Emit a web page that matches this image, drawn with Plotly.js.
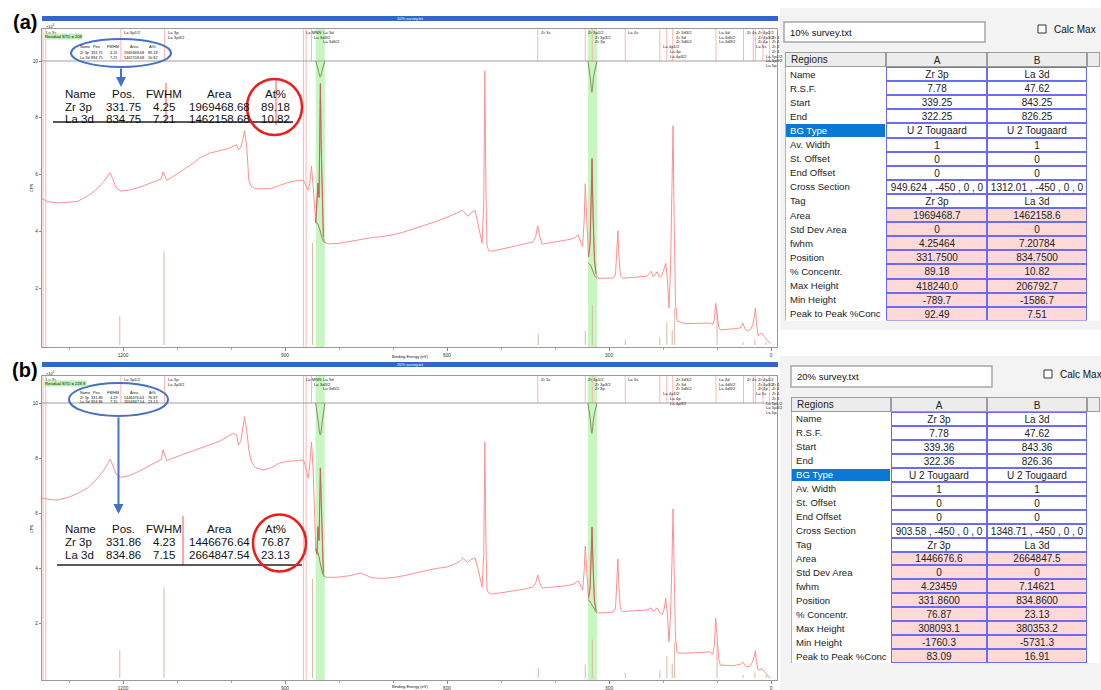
<!DOCTYPE html>
<html><head><meta charset="utf-8">
<script src="https://cdn.plot.ly/plotly-3.0.1.min.js"></script>
<style>html,body{margin:0;padding:0;background:#fff;} #chart{width:1101px;height:690px;}</style>
</head><body><div id="chart"></div>
<script>
// ---------------- DATA ----------------
const bindingEnergy = [1350,1339,1322,1300,1285,1265,1248,1236,1228,1224,
 1219,1213,1205,1190,1170,1150,1136,1129,1126,1123,
 1119,1110,1090,1070,1057,1040,1020,1005,996,990,
 986,982,978,975,971,967,963,955,940,925,
 910,895,880,870,865,861,857,854,851,848,
 845,843,841,839,837,835.5,834.5,833,831,829,
 826,820,800,780,760,740,720,700,680,660,
 640,620,600,585,576,571,566,562,556,548,
 543,538,535,532,530,528,526,523,518,500,
 480,460,441,436,432,428,424,415,400,385,
 372,365,357,352,349,346,344,341,338,335,
 333,331.5,329.5,327,324,320,305,292,288,285,
 283.5,282,279,275,260,245,230,222,218,211,
 207,202,198,195,192,189,186,183.5,181.5,179.5,
 177,174,160,140,120,113,108,105,102.5,100,
 97,94,85,70,57,52,48,44,38,34,
 31,29,27,24,21,17,13,8,4,1];
// counts (x10^5 CPS) for 10% sample (a)
const cpsA = [5.15,5.05,5.0,5.02,5.05,5.25,5.5,5.75,5.95,6.07,
 5.85,5.55,5.42,5.45,5.55,5.7,5.78,5.85,6.1,5.95,
 5.8,5.9,6.15,6.4,6.6,6.75,6.85,6.92,7.0,7.05,
 6.88,6.95,7.25,7.55,7.0,5.8,5.6,5.5,5.5,5.52,
 5.62,5.72,5.78,5.8,5.78,5.6,5.45,5.7,6.3,5.6,
 4.6,4.3,5.0,5.7,5.2,7.2,9.2,7.0,4.6,3.8,
 3.6,3.56,3.58,3.65,3.72,3.78,3.82,3.88,3.98,4.1,
 4.22,4.35,4.5,4.62,4.7,4.74,4.62,4.53,4.65,4.74,
 4.3,3.8,3.58,5.0,9.65,5.5,3.5,3.33,3.3,3.37,
 3.45,3.55,3.63,3.8,4.2,3.8,3.55,3.58,3.62,3.68,
 3.72,3.76,3.87,3.6,3.47,4.4,5.68,4.3,3.1,3.6,
 5.2,6.56,4.5,3.0,2.5,2.35,2.35,2.36,2.5,3.4,
 4.03,3.2,2.45,2.35,2.37,2.4,2.42,2.6,2.4,2.58,
 2.4,2.45,2.7,2.88,2.3,1.3,2.8,5.5,7.72,4.5,
 1.5,0.85,0.75,0.76,0.77,0.77,0.72,0.9,1.47,1.1,
 0.65,0.53,0.54,0.57,0.6,0.77,0.55,0.5,0.55,0.7,
 1.0,1.3,0.8,0.32,0.38,0.42,0.3,0.18,0.1,0.05];
// counts (x10^5 CPS) for 20% sample (b)
const cpsB = [6.55,6.5,6.47,6.58,6.7,6.92,7.25,7.55,7.8,7.96,
 7.75,7.42,7.3,7.35,7.52,7.72,7.85,7.95,8.3,8.1,
 7.9,7.98,8.12,8.25,8.36,8.48,8.62,8.8,8.9,8.85,
 8.47,8.6,9.1,9.5,9.0,8.3,7.9,7.65,7.56,7.65,
 7.82,7.88,7.9,7.93,7.9,7.6,7.27,7.8,8.58,7.6,
 5.8,4.7,4.5,5.5,5.0,6.5,7.64,6.5,4.6,3.8,
 3.67,3.66,3.67,3.72,3.82,3.65,3.62,3.65,3.72,3.82,
 3.9,3.98,4.04,4.15,4.25,4.36,4.28,4.2,4.3,4.36,
 4.0,3.5,3.3,4.5,8.58,5.0,3.2,3.1,3.05,3.1,
 3.15,3.22,3.31,3.45,3.75,3.45,3.27,3.28,3.3,3.34,
 3.38,3.42,3.53,3.35,3.2,3.9,4.8,3.8,2.9,3.3,
 4.5,5.49,4.0,2.8,2.45,2.36,2.38,2.4,2.55,3.5,
 4.33,3.4,2.5,2.42,2.44,2.45,2.47,2.55,2.42,2.55,
 2.4,2.3,2.5,2.9,2.3,1.31,2.4,4.2,6.15,4.0,
 1.5,0.92,0.9,0.92,0.94,0.95,0.85,1.2,2.18,1.4,
 0.7,0.47,0.46,0.45,0.5,0.58,0.45,0.4,0.45,0.6,
 0.8,1.0,0.6,0.29,0.3,0.33,0.25,0.12,0.04,0.0];

// element reference sticks
const stickBE = [1206,1124,849,431,344,331,270,206,193,183,178.5,100,52,30,9];
const stickHeight = [1.02,3.3,3.6,0.38,0.5,1.4,0.2,0.27,0.8,0.53,1.3,1.23,0.1,0.2,0.12];
// marker lines
const fullLineBE = [1348,1343,866,861];
const bandLineBE = [1204,1123,851,432,344,331,270,206,193,182,102,51,33,29,15,3];
const labelBE   = [1348,1204,1123,1123,866,835,851,835,432,344,331,331,270,206,193,193,182,182,182,102,102,102,51,29,29,29,33,3,3,3,3,15,15,15];
const labelText = ['La 3s','La 3p1/2','La 3p','La 3p3/2','La MNN','La 3d','La 3d3/2','La 3d5/2','Zr 3s','Zr 3p1/2','Zr 3p3/2','Zr 3p','La 4s','La 4p1/2','La 4p','La 4p3/2','Zr 3d3/2','Zr 3d','Zr 3d5/2','La 4d','La 4d5/2','La 4d3/2','Zr 4s','Zr 4p1/2','Zr 4p3/2','Zr 4p','La 5s','Zr 4','Zr 4','Zr 4','Zr 4','La 5p1/2','La 5p3/2','La 5p'];
const labelRow  = [0,0,0,1,0,0,1,2,0,0,1,2,0,3,4,5,0,1,2,0,1,2,0,0,1,2,3,1,2,3,4,5,6,7];

// background and residual curves
const bgBE_La = [843.25,840,837,834,831,828.5,826.25];
const bgLaA = [4.3,4.28,4.15,3.95,3.75,3.64,3.6];
const bgLaB = [4.7,4.6,4.4,4.1,3.85,3.72,3.67];
const bgBE_Zr = [339.25,336,333,330,327,324.5,322.25];
const bgZrA = [2.9,2.85,2.75,2.6,2.45,2.38,2.35];
const bgZrB = [2.85,2.8,2.7,2.6,2.5,2.42,2.37];
const residBE_La = [843.25,839,834.75,830.5,826.25];
const residLaA = [10,9.72,9.44,9.72,10];
const residLaB = [10,9.4,8.84,9.4,10];
const residBE_Zr = [339.25,335,331.75,328.5,322.25];
const residZrA = [10,9.45,8.9,9.45,10];
const residZrB = [10,9.45,8.9,9.45,10];

// quantification overlay
const quantHeader = ['Name','Pos.','FWHM','Area','At%'];
const quantNames = ['Zr 3p','La 3d'];
const quantPosA = [331.75,834.75], quantFwhmA = [4.25,7.21], quantAreaA = [1969468.68,1462158.68], quantAtA = [89.18,10.82];
const quantPosB = [331.86,834.86], quantFwhmB = [4.23,7.15], quantAreaB = [1446676.64,2664847.54], quantAtB = [76.87,23.13];

// region tables
const tableHeader = ['Regions','A','B',''];
const regionLabels = ['Name','R.S.F.','Start','End','BG Type','Av. Width','St. Offset','End Offset','Cross Section','Tag','Area','Std Dev Area','fwhm','Position','% Concentr.','Max Height','Min Height','Peak to Peak %Conc'];
const colA_a = ['Zr 3p','7.78','339.25','322.25','U 2 Tougaard','1','0','0','949.624 , -450 , 0 , 0','Zr 3p','1969468.7','0','4.25464','331.7500','89.18','418240.0','-789.7','92.49'];
const colB_a = ['La 3d','47.62','843.25','826.25','U 2 Tougaard','1','0','0','1312.01 , -450 , 0 , 0','La 3d','1462158.6','0','7.20784','834.7500','10.82','206792.7','-1586.7','7.51'];
const colA_b = ['Zr 3p','7.78','339.36','322.36','U 2 Tougaard','1','0','0','903.58 , -450 , 0 , 0','Zr 3p','1446676.6','0','4.23459','331.8600','76.87','308093.1','-1760.3','83.09'];
const colB_b = ['La 3d','47.62','843.36','826.36','U 2 Tougaard','1','0','0','1348.71 , -450 , 0 , 0','La 3d','2664847.5','0','7.14621','834.8600','23.13','380353.2','-5731.3','16.91'];
const xTickVals = [1200,900,600,300,0];
const yTickVals = [2,4,6,8,10];

// ---------------- LAYOUT HELPERS ----------------
const W = 1101, H = 690;
const X = p => p / W, Y = p => 1 - p / H;
const FONT = 'Liberation Sans, Arial, sans-serif';
const PINK = '#ff9090', MARK = '#ffb4b4', GREEN = '#c8f6c2', STICK = '#d8b8a4', OLIVE = '#8a8755', FIT = '#b8685c';

const panels = [
  {xa:'x', ya:'y', top:29, bottom:347, zeroPx:345, ppu:28.4, barTop:16, file:'10% survey.txt', cps:cpsA,
   colA:colA_a, colB:colB_a, bgLa:bgLaA, bgZr:bgZrA, resLa:residLaA, resZr:residZrA, std:'Residual STD = 208',
   pos:quantPosA, fwhm:quantFwhmA, area:quantAreaA, at:quantAtA,
   smallRows:[47,52.5,57.5], ell:[121,53,50,14], arrow:[121,67,87], bigRows:[94,107,119], strike:[53,293,122],
   circle:[274.5,107,27.5,28], redSeg:[[166,83,123],[276,80,125]], label:'(a)', labelY:22, cpsY:188, beY:356,
   tbl:{x0:785, y0:52, cw:[101,101,100,13], headH:15, rowH:14.1, tx:'x3', ty:'y3'}, fileBox:[784,985,22,42], chk:[1038,25], bg:[8,330]},
  {xa:'x2', ya:'y2', top:376, bottom:680, zeroPx:678, ppu:27.5, barTop:362, file:'20% survey.txt', cps:cpsB,
   colA:colA_b, colB:colB_b, bgLa:bgLaB, bgZr:bgZrB, resLa:residLaB, resZr:residZrB, std:'Residual STD = 228.9',
   pos:quantPosB, fwhm:quantFwhmB, area:quantAreaB, at:quantAtB,
   smallRows:[393,397.5,402], ell:[118.5,399.5,49.5,16.5], arrow:[118.5,416,514], bigRows:[529,542,555], strike:[57,302,565],
   circle:[279.5,543,26.5,28.5], redSeg:[[183,516,565]], label:'(b)', labelY:370, cpsY:529, beY:686,
   tbl:{x0:791, y0:397, cw:[100,96,100,13], headH:15, rowH:13.95, tx:'x4', ty:'y4'}, fileBox:[791,992,366,387], chk:[1044,370], bg:[356,690]}
];

const data = [], shapes = [], annotations = [];
const layout = {
  width: W, height: H, margin:{l:0,r:0,t:0,b:0}, paper_bgcolor:'#ffffff', plot_bgcolor:'rgba(0,0,0,0)',
  showlegend:false, font:{family:FONT, color:'#222'}, shapes, annotations
};
const txt = (text, x, y, size, o={}) => annotations.push(Object.assign({text, x:X(x), y:Y(y), xref:'paper', yref:'paper',
  showarrow:false, font:{size, family:FONT, color:o.color||'#111'}, xanchor:o.xa||'center', yanchor:'middle'}, o.extra||{}));
const rect = (x0,y0,x1,y1,fill,line,lw,layer) => shapes.push({type:'rect', xref:'paper', yref:'paper', x0:X(x0), x1:X(x1), y0:Y(y0), y1:Y(y1),
  fillcolor:fill, line:{color:line||'rgba(0,0,0,0)', width:lw||0}, layer:layer||'below'});
const seg = (x0,y0,x1,y1,color,w,layer) => shapes.push({type:'line', xref:'paper', yref:'paper', x0:X(x0), x1:X(x1), y0:Y(y0), y1:Y(y1),
  line:{color, width:w}, layer:layer||'above'});

panels.forEach((p, k) => {
  const yMin = -(p.bottom - p.zeroPx) / p.ppu, yMax = (p.zeroPx - p.top) / p.ppu;
  const sfx = k === 0 ? '' : '2';
  layout['xaxis' + sfx] = {domain:[X(42), X(777)], range:[1350,-11], anchor:p.ya, tickvals:xTickVals, ticktext:xTickVals.map(String),
    ticks:'outside', ticklen:3, tickcolor:'#888', tickfont:{size:4.8, color:'#333'}, showline:true, linecolor:'#999', linewidth:1, mirror:true,
    showgrid:false, zeroline:false, minor:{dtick:100, tick0:0, ticks:'outside', ticklen:2, tickcolor:'#aaa'}};
  layout['yaxis' + sfx] = {domain:[Y(p.bottom), Y(p.top)], range:[yMin, yMax], anchor:p.xa, tickvals:yTickVals, ticktext:yTickVals.map(String),
    ticks:'outside', ticklen:2, tickcolor:'#888', tickfont:{size:4.8, color:'#333'}, showline:true, linecolor:'#999', linewidth:1, mirror:true,
    showgrid:false, zeroline:false};

  const regions = [[parseFloat(p.colA[2]), parseFloat(p.colA[3])], [parseFloat(p.colB[2]), parseFloat(p.colB[3])]];
  regions.forEach(([s, e]) => {
    shapes.push({type:'rect', xref:p.xa, yref:'paper', x0:s, x1:e, y0:Y(p.bottom), y1:Y(p.top), fillcolor:GREEN, line:{width:0}, layer:'below'});
  });
  fullLineBE.forEach(b => shapes.push({type:'line', xref:p.xa, yref:'paper', x0:b, x1:b, y0:Y(p.bottom), y1:Y(p.top), line:{color:MARK, width:1}, layer:'below'}));
  bandLineBE.forEach(b => shapes.push({type:'line', xref:p.xa, yref:p.ya, x0:b, x1:b, y0:10, y1:yMax, line:{color:MARK, width:1}, layer:'below'}));
  shapes.push({type:'line', xref:'paper', yref:p.ya, x0:X(42), x1:X(777), y0:10, y1:10, line:{color:'#a0a0a0', width:1.2}, layer:'above'});

  // sticks
  const sx = [], sy = [];
  stickBE.forEach((b, i) => { sx.push(b, b, null); sy.push(0, stickHeight[i], null); });
  data.push({type:'scatter', mode:'lines', x:sx, y:sy, xaxis:p.xa, yaxis:p.ya, line:{color:STICK, width:1}, hoverinfo:'skip'});
  // spectrum
  data.push({type:'scatter', mode:'lines', x:bindingEnergy, y:p.cps, xaxis:p.xa, yaxis:p.ya, line:{color:PINK, width:1}});
  regions.forEach(([s, e]) => {
    const fx = [], fy = [];
    bindingEnergy.forEach((b, i) => { if (b <= s && b >= e) { fx.push(b); fy.push(p.cps[i]); } });
    data.push({type:'scatter', mode:'lines', x:fx, y:fy, xaxis:p.xa, yaxis:p.ya, line:{color:FIT, width:1}});
  });
  data.push({type:'scatter', mode:'lines', x:bgBE_La, y:p.bgLa, xaxis:p.xa, yaxis:p.ya, line:{color:OLIVE, width:1, shape:'spline'}});
  data.push({type:'scatter', mode:'lines', x:bgBE_Zr, y:p.bgZr, xaxis:p.xa, yaxis:p.ya, line:{color:OLIVE, width:1, shape:'spline'}});
  data.push({type:'scatter', mode:'lines', x:residBE_La, y:p.resLa, xaxis:p.xa, yaxis:p.ya, line:{color:OLIVE, width:1, shape:'spline'}});
  data.push({type:'scatter', mode:'lines', x:residBE_Zr, y:p.resZr, xaxis:p.xa, yaxis:p.ya, line:{color:OLIVE, width:1, shape:'spline'}});

  // band labels
  labelBE.forEach((b, i) => annotations.push({text:labelText[i], x:b, xref:p.xa, y:Y(p.top + 3.5 + 4.7 * labelRow[i]), yref:'paper',
    showarrow:false, xanchor:'left', yanchor:'middle', xshift:1, font:{size:4.2, family:FONT, color:'#222'}}));

  // title bar and panel texts
  rect(42, p.barTop, 778, p.barTop + 5, '#3366cc', null, 0, 'above');
  txt(p.file, 410, p.barTop + 2.5, 4, {color:'#ffffff'});
  txt('<b>' + p.label + '</b>', 24.5, p.labelY, 20, {color:'#000'});
  txt('×10<sup>5</sup>', 44, p.top - 3, 4, {xa:'left'});
  txt(p.std, 44, p.top + 7, 4.1, {xa:'left', extra:{bgcolor:'#bfeeb5', borderpad:0}});
  txt('CPS', 31, p.cpsY, 4, {extra:{textangle:-90}});
  txt('Binding Energy (eV)', 410, p.beY, 4);

  // small quantification table (inside the blue ellipse) and enlarged copy
  const rowsVals = [quantHeader,
    [quantNames[0], p.pos[0].toFixed(2), p.fwhm[0].toFixed(2), p.area[0].toFixed(2), p.at[0].toFixed(2)],
    [quantNames[1], p.pos[1].toFixed(2), p.fwhm[1].toFixed(2), p.area[1].toFixed(2), p.at[1].toFixed(2)]];
  const smallX = [78, 97, 113, 134, 153];
  rowsVals.forEach((row, r) => row.forEach((t, c) => txt(t, smallX[c], p.smallRows[r], 3.8, {xa: c === 0 ? 'left' : 'center'})));
  const bigX = [63, 123, 164, 219, 275];
  rowsVals.forEach((row, r) => row.forEach((t, c) => txt(t, bigX[c], p.bigRows[r], 11.5, {xa: c === 0 ? 'left' : 'center', color:'#111'})));
  seg(p.strike[0], p.strike[2], p.strike[1], p.strike[2], '#222', 1.3);
  p.redSeg.forEach(s => seg(s[0], s[1], s[0], s[2], '#ff5050', 1, 'below'));
  const [ex, ey, erx, ery] = p.ell;
  shapes.push({type:'circle', xref:'paper', yref:'paper', x0:X(ex-erx), x1:X(ex+erx), y0:Y(ey+ery), y1:Y(ey-ery), line:{color:'#4472c4', width:2}, layer:'above'});
  const [cx, cy, crx, cry] = p.circle;
  shapes.push({type:'circle', xref:'paper', yref:'paper', x0:X(cx-crx), x1:X(cx+crx), y0:Y(cy+cry), y1:Y(cy-cry), line:{color:'#ee1c1c', width:2.5}, layer:'above'});
  annotations.push({text:'', x:X(p.arrow[0]), y:Y(p.arrow[2]), xref:'paper', yref:'paper', ax:0, ay:-(p.arrow[2]-p.arrow[1]),
    showarrow:true, arrowhead:2, arrowsize:1, arrowwidth:2, arrowcolor:'#4472c4', standoff:0});

  // right-hand region panel
  rect(780, p.bg[0], 1101, p.bg[1], '#f3f3f3');
  rect(p.fileBox[0], p.fileBox[2], p.fileBox[1], p.fileBox[3], '#ffffff', '#a8a8a8', 1.5);
  txt(p.file, p.fileBox[0] + 4, (p.fileBox[2] + p.fileBox[3]) / 2, 9.5, {xa:'left'});
  rect(p.chk[0], p.chk[1], p.chk[0] + 8, p.chk[1] + 8, '#ffffff', '#333333', 1);
  txt('Calc Max', p.chk[0] + 14, p.chk[1] + 4, 10, {xa:'left'});

  // region table drawn as a heatmap grid (cell colours + text) on its own hidden axes
  const t = p.tbl;
  const xEdges = [0]; t.cw.forEach(w => xEdges.push(xEdges[xEdges.length - 1] + w));
  const yEdges = [0, t.headH]; regionLabels.forEach(() => yEdges.push(yEdges[yEdges.length - 1] + t.rowH));
  const tw = xEdges[xEdges.length - 1], th = yEdges[yEdges.length - 1];
  const axN = t.tx.slice(1);
  layout['xaxis' + axN] = {domain:[X(t.x0), X(t.x0 + tw)], range:[0, tw], anchor:t.ty, visible:false, fixedrange:true};
  layout['yaxis' + axN] = {domain:[Y(t.y0 + th), Y(t.y0)], range:[th, 0], anchor:t.tx, visible:false, fixedrange:true};
  const pinkFrom = regionLabels.indexOf('Area');
  const z = [[3, 3, 3, 3]].concat(regionLabels.map((l, i) => [l === 'BG Type' ? 2 : 0, i >= pinkFrom ? 1 : 0, i >= pinkFrom ? 1 : 0, 0]));
  const cellText = [['', tableHeader[1], tableHeader[2], '']].concat(regionLabels.map((l, i) => ['', p.colA[i], p.colB[i], '']));
  shapes.push({type:'rect', xref:t.tx, yref:t.ty, x0:0, x1:tw, y0:0, y1:th + 2, fillcolor:'#ffffff', line:{width:0}, layer:'below'});
  shapes.push({type:'rect', xref:t.tx, yref:t.ty, x0:0, x1:tw, y0:0, y1:t.headH, fillcolor:'#9c9c9c', line:{width:0}, layer:'below'});
  shapes.push({type:'rect', xref:t.tx, yref:t.ty, x0:xEdges[1], x1:xEdges[3], y0:t.headH, y1:th, fillcolor:'#6b6bf5', line:{width:0}, layer:'below'});
  shapes.push({type:'line', xref:t.tx, yref:t.ty, x0:0, x1:0, y0:0, y1:th, line:{color:'#9c9c9c', width:1.5}, layer:'above'});
  data.push({type:'heatmap', x:xEdges, y:yEdges, z, text:cellText, texttemplate:'%{text}', xaxis:t.tx, yaxis:t.ty,
    zmin:0, zmax:3, showscale:false, xgap:2, ygap:2, hoverinfo:'skip',
    colorscale:[[0,'#ffffff'],[0.1667,'#ffffff'],[0.1667,'#ffd8d8'],[0.5,'#ffd8d8'],[0.5,'#0a78d4'],[0.8333,'#0a78d4'],[0.8333,'#ececec'],[1,'#ececec']],
    textfont:{family:FONT, size:10, color:'#222222'}});
  annotations.push({text:tableHeader[0], x:4, y:t.headH / 2, xref:t.tx, yref:t.ty, showarrow:false, xanchor:'left', yanchor:'middle',
    font:{family:FONT, size:10, color:'#222'}});
  regionLabels.forEach((l, i) => annotations.push({text:l, x:3, y:t.headH + (i + 0.5) * t.rowH, xref:t.tx, yref:t.ty, showarrow:false,
    xanchor:'left', yanchor:'middle', font:{family:FONT, size:9.6, color: l === 'BG Type' ? '#ffffff' : '#222'}}));
});

Plotly.newPlot('chart', data, layout, {displayModeBar:false, staticPlot:true});
</script></body></html>
